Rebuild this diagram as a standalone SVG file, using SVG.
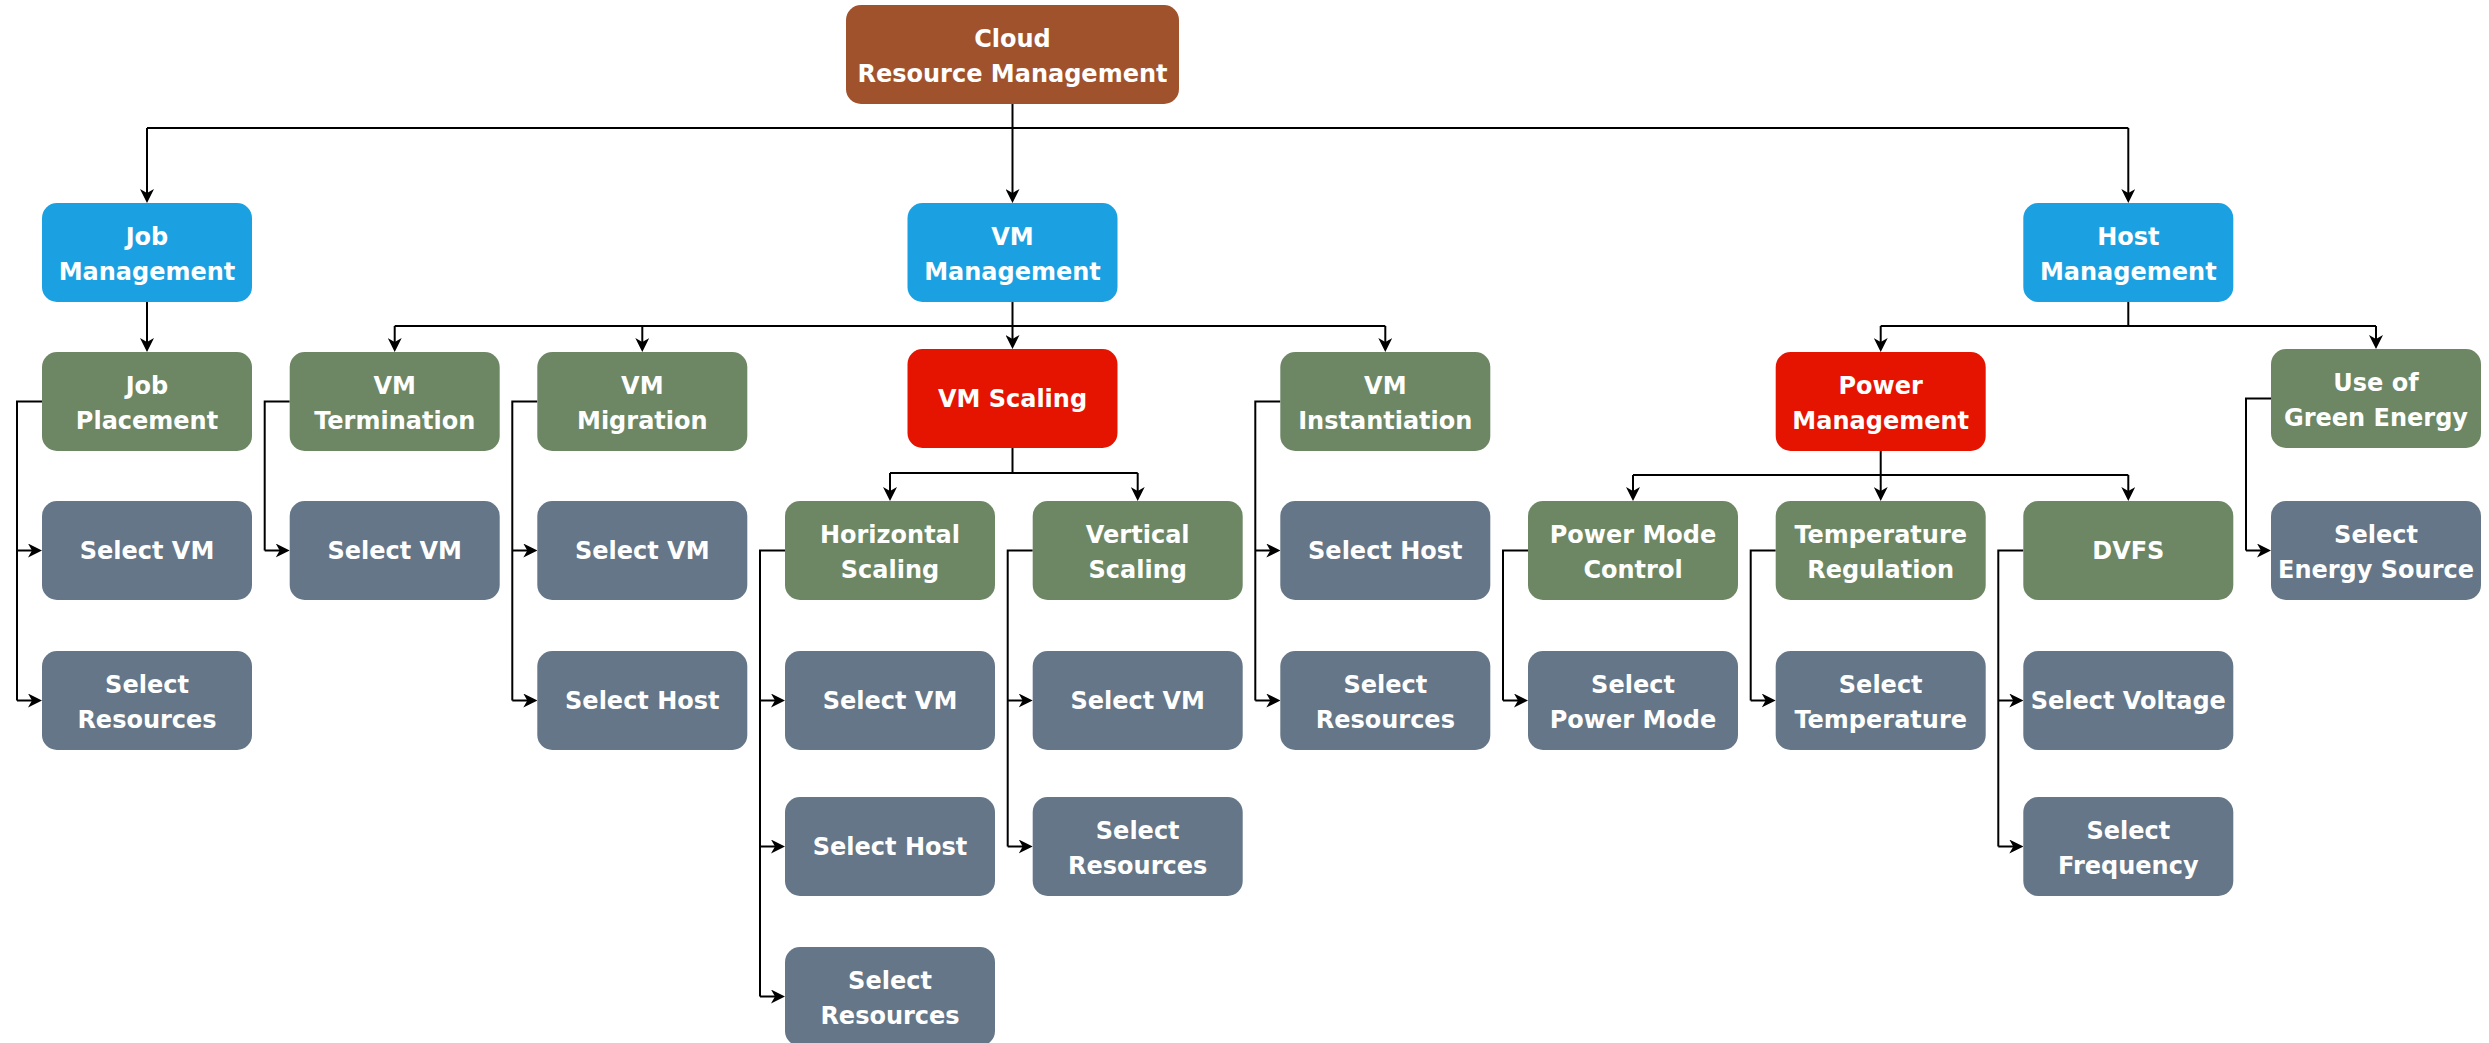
<svg xmlns="http://www.w3.org/2000/svg" width="2489" height="1043" viewBox="0 0 2489 1043">
  <style>
    .box { stroke: none; }
    .root { fill: #a0522d; }
    .blue { fill: #1ba1e2; }
    .green { fill: #6d8764; }
    .red { fill: #e51400; }
    .slate { fill: #647687; }
    .t { fill: #ffffff; font-family: "DejaVu Sans", Verdana, sans-serif; font-weight: bold; font-size: 24px; text-anchor: middle; }
    .c { fill: none; stroke: #000000; stroke-width: 2; }
    .a { marker-end: url(#arrow); }
  </style>
  <defs>
    <marker id="arrow" viewBox="0 0 14 14" refX="10" refY="7" markerWidth="14" markerHeight="14" markerUnits="userSpaceOnUse" orient="auto">
      <path d="M14,7 L0,0 L4,7 L0,14 Z" fill="#000000"/>
    </marker>
  </defs>

  <rect width="2489" height="1043" fill="#ffffff"/>

  <!-- connectors -->
  <g id="connectors">
    <!-- root to level 1 -->
    <path class="c a" d="M1012.5,104 V199"/>
    <path class="c" d="M147,128 H2128.3"/>
    <path class="c a" d="M147,128 V199"/>
    <path class="c a" d="M2128.3,128 V199"/>
    <!-- job management -->
    <path class="c a" d="M147,302 V348"/>
    <!-- vm management -->
    <path class="c" d="M1012.5,302 V326 M394.7,326 H1385.3"/>
    <path class="c a" d="M394.7,326 V348"/>
    <path class="c a" d="M642.3,326 V348"/>
    <path class="c a" d="M1012.5,326 V345"/>
    <path class="c a" d="M1385.3,326 V348"/>
    <!-- host management -->
    <path class="c" d="M2128.3,302 V326 M1880.7,326 H2376"/>
    <path class="c a" d="M1880.7,326 V348"/>
    <path class="c a" d="M2376,326 V345"/>
    <!-- vm scaling -->
    <path class="c" d="M1012.5,448 V473 M890,473 H1137.7"/>
    <path class="c a" d="M890,473 V497"/>
    <path class="c a" d="M1137.7,473 V497"/>
    <!-- power management -->
    <path class="c" d="M1880.7,451 V475 M1633,475 H2128.3"/>
    <path class="c a" d="M1633,475 V497"/>
    <path class="c a" d="M1880.7,475 V497"/>
    <path class="c a" d="M2128.3,475 V497"/>

    <!-- side brackets to leaf tasks -->
    <path class="c" d="M42,401.5 H17 V700.5"/>
    <path class="c a" d="M17,550.5 H38"/>
    <path class="c a" d="M17,700.5 H38"/>

    <path class="c" d="M289.7,401.5 H264.7 V550.5"/>
    <path class="c a" d="M264.7,550.5 H285.7"/>

    <path class="c" d="M537.3,401.5 H512.3 V700.5"/>
    <path class="c a" d="M512.3,550.5 H533.3"/>
    <path class="c a" d="M512.3,700.5 H533.3"/>

    <path class="c" d="M785,550.5 H760 V996.5"/>
    <path class="c a" d="M760,700.5 H781"/>
    <path class="c a" d="M760,846.5 H781"/>
    <path class="c a" d="M760,996.5 H781"/>

    <path class="c" d="M1032.7,550.5 H1007.7 V846.5"/>
    <path class="c a" d="M1007.7,700.5 H1028.7"/>
    <path class="c a" d="M1007.7,846.5 H1028.7"/>

    <path class="c" d="M1280.3,401.5 H1255.3 V700.5"/>
    <path class="c a" d="M1255.3,550.5 H1276.3"/>
    <path class="c a" d="M1255.3,700.5 H1276.3"/>

    <path class="c" d="M1528,550.5 H1503 V700.5"/>
    <path class="c a" d="M1503,700.5 H1524"/>

    <path class="c" d="M1775.7,550.5 H1750.7 V700.5"/>
    <path class="c a" d="M1750.7,700.5 H1771.7"/>

    <path class="c" d="M2023.3,550.5 H1998.3 V846.5"/>
    <path class="c a" d="M1998.3,700.5 H2019.3"/>
    <path class="c a" d="M1998.3,846.5 H2019.3"/>

    <path class="c" d="M2271,398.5 H2246 V550.5"/>
    <path class="c a" d="M2246,550.5 H2267"/>
  </g>

  <!-- nodes -->
  <g id="n-root"><rect class="box root" x="846" y="5" width="333" height="99" rx="15"/>
    <text class="t" x="1012.5" y="47">Cloud</text><text class="t" x="1012.5" y="82">Resource Management</text></g>

  <g id="n-job-mgmt"><rect class="box blue" x="42" y="203" width="210" height="99" rx="15"/>
    <text class="t" x="147" y="245">Job</text><text class="t" x="147" y="279.5">Management</text></g>
  <g id="n-vm-mgmt"><rect class="box blue" x="907.5" y="203" width="210" height="99" rx="15"/>
    <text class="t" x="1012.5" y="245">VM</text><text class="t" x="1012.5" y="279.5">Management</text></g>
  <g id="n-host-mgmt"><rect class="box blue" x="2023.3" y="203" width="210" height="99" rx="15"/>
    <text class="t" x="2128.3" y="245">Host</text><text class="t" x="2128.3" y="279.5">Management</text></g>

  <g id="n-job-placement"><rect class="box green" x="42" y="352" width="210" height="99" rx="15"/>
    <text class="t" x="147" y="394">Job</text><text class="t" x="147" y="428.5">Placement</text></g>
  <g id="n-vm-termination"><rect class="box green" x="289.7" y="352" width="210" height="99" rx="15"/>
    <text class="t" x="394.7" y="394">VM</text><text class="t" x="394.7" y="428.5">Termination</text></g>
  <g id="n-vm-migration"><rect class="box green" x="537.3" y="352" width="210" height="99" rx="15"/>
    <text class="t" x="642.3" y="394">VM</text><text class="t" x="642.3" y="428.5">Migration</text></g>
  <g id="n-vm-scaling"><rect class="box red" x="907.5" y="349" width="210" height="99" rx="15"/>
    <text class="t" x="1012.5" y="407.3">VM Scaling</text></g>
  <g id="n-vm-instantiation"><rect class="box green" x="1280.3" y="352" width="210" height="99" rx="15"/>
    <text class="t" x="1385.3" y="394">VM</text><text class="t" x="1385.3" y="428.5">Instantiation</text></g>
  <g id="n-power-mgmt"><rect class="box red" x="1775.7" y="352" width="210" height="99" rx="15"/>
    <text class="t" x="1880.7" y="394">Power</text><text class="t" x="1880.7" y="428.5">Management</text></g>
  <g id="n-green-energy"><rect class="box green" x="2271" y="349" width="210" height="99" rx="15"/>
    <text class="t" x="2376" y="391">Use of</text><text class="t" x="2376" y="425.5">Green Energy</text></g>

  <g id="n-jp-select-vm"><rect class="box slate" x="42" y="501" width="210" height="99" rx="15"/>
    <text class="t" x="147" y="559.3">Select VM</text></g>
  <g id="n-vt-select-vm"><rect class="box slate" x="289.7" y="501" width="210" height="99" rx="15"/>
    <text class="t" x="394.7" y="559.3">Select VM</text></g>
  <g id="n-vmig-select-vm"><rect class="box slate" x="537.3" y="501" width="210" height="99" rx="15"/>
    <text class="t" x="642.3" y="559.3">Select VM</text></g>
  <g id="n-horizontal-scaling"><rect class="box green" x="785" y="501" width="210" height="99" rx="15"/>
    <text class="t" x="890" y="543">Horizontal</text><text class="t" x="890" y="577.5">Scaling</text></g>
  <g id="n-vertical-scaling"><rect class="box green" x="1032.7" y="501" width="210" height="99" rx="15"/>
    <text class="t" x="1137.7" y="543">Vertical</text><text class="t" x="1137.7" y="577.5">Scaling</text></g>
  <g id="n-vi-select-host"><rect class="box slate" x="1280.3" y="501" width="210" height="99" rx="15"/>
    <text class="t" x="1385.3" y="559.3">Select Host</text></g>
  <g id="n-power-mode-control"><rect class="box green" x="1528" y="501" width="210" height="99" rx="15"/>
    <text class="t" x="1633" y="543">Power Mode</text><text class="t" x="1633" y="577.5">Control</text></g>
  <g id="n-temperature-regulation"><rect class="box green" x="1775.7" y="501" width="210" height="99" rx="15"/>
    <text class="t" x="1880.7" y="543">Temperature</text><text class="t" x="1880.7" y="577.5">Regulation</text></g>
  <g id="n-dvfs"><rect class="box green" x="2023.3" y="501" width="210" height="99" rx="15"/>
    <text class="t" x="2128.3" y="559.3">DVFS</text></g>
  <g id="n-select-energy-source"><rect class="box slate" x="2271" y="501" width="210" height="99" rx="15"/>
    <text class="t" x="2376" y="543">Select</text><text class="t" x="2376" y="577.5">Energy Source</text></g>

  <g id="n-jp-select-resources"><rect class="box slate" x="42" y="651" width="210" height="99" rx="15"/>
    <text class="t" x="147" y="693">Select</text><text class="t" x="147" y="727.5">Resources</text></g>
  <g id="n-vmig-select-host"><rect class="box slate" x="537.3" y="651" width="210" height="99" rx="15"/>
    <text class="t" x="642.3" y="709.3">Select Host</text></g>
  <g id="n-hs-select-vm"><rect class="box slate" x="785" y="651" width="210" height="99" rx="15"/>
    <text class="t" x="890" y="709.3">Select VM</text></g>
  <g id="n-vs-select-vm"><rect class="box slate" x="1032.7" y="651" width="210" height="99" rx="15"/>
    <text class="t" x="1137.7" y="709.3">Select VM</text></g>
  <g id="n-vi-select-resources"><rect class="box slate" x="1280.3" y="651" width="210" height="99" rx="15"/>
    <text class="t" x="1385.3" y="693">Select</text><text class="t" x="1385.3" y="727.5">Resources</text></g>
  <g id="n-select-power-mode"><rect class="box slate" x="1528" y="651" width="210" height="99" rx="15"/>
    <text class="t" x="1633" y="693">Select</text><text class="t" x="1633" y="727.5">Power Mode</text></g>
  <g id="n-select-temperature"><rect class="box slate" x="1775.7" y="651" width="210" height="99" rx="15"/>
    <text class="t" x="1880.7" y="693">Select</text><text class="t" x="1880.7" y="727.5">Temperature</text></g>
  <g id="n-select-voltage"><rect class="box slate" x="2023.3" y="651" width="210" height="99" rx="15"/>
    <text class="t" x="2128.3" y="709.3">Select Voltage</text></g>

  <g id="n-hs-select-host"><rect class="box slate" x="785" y="797" width="210" height="99" rx="15"/>
    <text class="t" x="890" y="855.3">Select Host</text></g>
  <g id="n-vs-select-resources"><rect class="box slate" x="1032.7" y="797" width="210" height="99" rx="15"/>
    <text class="t" x="1137.7" y="839">Select</text><text class="t" x="1137.7" y="873.5">Resources</text></g>
  <g id="n-select-frequency"><rect class="box slate" x="2023.3" y="797" width="210" height="99" rx="15"/>
    <text class="t" x="2128.3" y="839">Select</text><text class="t" x="2128.3" y="873.5">Frequency</text></g>

  <g id="n-hs-select-resources"><rect class="box slate" x="785" y="947" width="210" height="99" rx="15"/>
    <text class="t" x="890" y="989">Select</text><text class="t" x="890" y="1023.5">Resources</text></g>
</svg>
